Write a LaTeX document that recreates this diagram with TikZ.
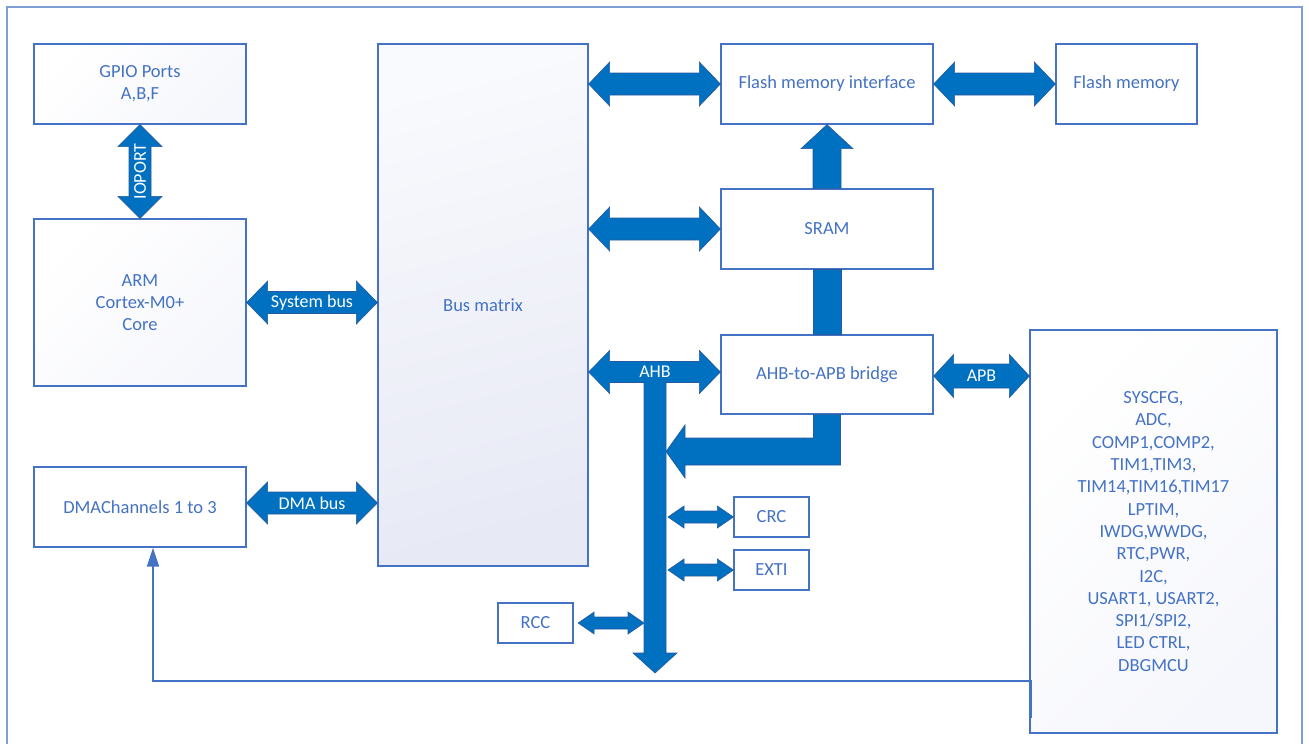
\documentclass[tikz,border=0pt]{standalone}
\usepackage{fontspec}
\setmainfont{Carlito}
\usetikzlibrary{calc,arrows.meta}
\definecolor{boxline}{RGB}{68,114,196}
\definecolor{txt}{RGB}{68,114,196}
\definecolor{arrowfill}{RGB}{0,112,192}
\definecolor{arrowedge}{RGB}{40,88,158}
\definecolor{lav}{RGB}{231,233,245}
\definecolor{lavlight}{RGB}{249,250,253}
\definecolor{lavsoft}{RGB}{246,247,252}
\definecolor{framecol}{RGB}{128,158,214}
\tikzset{
  blk/.style={draw=boxline, line width=1.3pt, text=txt, align=center, inner sep=0pt,
    fill=white, font=\fontsize{18.5}{22.3}\selectfont},
  softshade/.style={top color=white, bottom color=lavsoft, shading angle=45},
  bmshade/.style={top color=lavlight, bottom color=lav, shading angle=15},
  busarrow/.style={fill=arrowfill, draw=arrowedge, line width=0.6pt, line join=miter},
  lbl/.style={text=white, inner sep=0pt, font=\fontsize{18}{20}\selectfont},
  reqline/.style={draw=boxline, line width=2pt},
  framestyle/.style={draw=framecol, line width=2pt}
}
% horizontal double arrow: left, right, shaft half, head half, head length
\newcommand\hdbl[5]{%
  \path[busarrow] let \p1=(#1), \p2=(#2) in
   (\x1,\y1) -- (\x1+#5pt,\y1+#4pt) -- (\x1+#5pt,\y1+#3pt) -- (\x2-#5pt,\y1+#3pt)
   -- (\x2-#5pt,\y1+#4pt) -- (\x2,\y1) -- (\x2-#5pt,\y1-#4pt) -- (\x2-#5pt,\y1-#3pt)
   -- (\x1+#5pt,\y1-#3pt) -- (\x1+#5pt,\y1-#4pt) -- cycle;}
% vertical double arrow: top, bottom, shaft half, head half, head length
\newcommand\vdbl[5]{%
  \path[busarrow] let \p1=(#1), \p2=(#2) in
   (\x1,\y1) -- (\x1+#4pt,\y1-#5pt) -- (\x1+#3pt,\y1-#5pt) -- (\x1+#3pt,\y2+#5pt)
   -- (\x1+#4pt,\y2+#5pt) -- (\x1,\y2) -- (\x1-#4pt,\y2+#5pt) -- (\x1-#3pt,\y2+#5pt)
   -- (\x1-#3pt,\y1-#5pt) -- (\x1-#4pt,\y1-#5pt) -- cycle;}
\begin{document}
\begin{tikzpicture}[x=1pt,y=-1pt]
\useasboundingbox (0,0) rectangle (1309,744);
\clip (0,0) rectangle (1309,744);
\draw[framestyle] (7,7) rectangle (1302,770);

% boxes
\node[blk, softshade, minimum width=212pt, minimum height=80pt] (gpio) at (140,84) {GPIO Ports\\A,B,F};
\node[blk, softshade, minimum width=212pt, minimum height=167pt] (arm) at (140,302.5) {ARM\\Cortex-M0+\\Core};
\node[blk, minimum width=212pt, minimum height=80pt] (dma) at (140,507) {DMAChannels 1 to 3};
\node[blk, bmshade, minimum width=210pt, minimum height=522pt] (bm) at (483,305) {Bus matrix};
\node[blk, minimum width=212pt, minimum height=80pt] (fmi) at (827,84) {Flash memory interface};
\node[blk, minimum width=141pt, minimum height=80pt] (fm) at (1126.5,84) {Flash memory};
\node[blk, minimum width=212pt, minimum height=80pt] (sram) at (827,229) {SRAM};
\node[blk, minimum width=212pt, minimum height=79pt] (bridge) at (827,374.5) {AHB-to-APB bridge};
\node[blk, softshade, minimum width=247pt, minimum height=403pt] (periph) at (1153.5,531.5)
  {SYSCFG,\\ADC,\\COMP1,COMP2,\\TIM1,TIM3,\\TIM14,TIM16,TIM17\\LPTIM,\\IWDG,WWDG,\\RTC,PWR,\\I2C,\\USART1, USART2,\\SPI1/SPI2,\\LED CTRL,\\DBGMCU};
\node[blk, minimum width=75pt, minimum height=40pt] (crc) at (771.5,517) {CRC};
\node[blk, minimum width=75pt, minimum height=40pt] (exti) at (771.5,570) {EXTI};
\node[blk, minimum width=75pt, minimum height=40pt] (rcc) at (535.5,623) {RCC};

\coordinate (ahbtop) at (655,375);
\coordinate (ahbend) at (655,673);
\coordinate (ltip) at (666,451.5);
\coordinate (dsrc) at (1031,718);

% IOPORT
\vdbl{gpio.south}{arm.north}{11}{22}{22}
\node[lbl, rotate=90] at ($(gpio.south)!0.5!(arm.north)$) {IOPORT};
% system bus
\hdbl{arm.east}{bm.west |- arm.east}{11}{21.5}{21}
\node[lbl] at ($(arm.east)!0.5!(bm.west |- arm.east)$) {System bus};
% DMA bus
\hdbl{$(dma.east)+(0,-4)$}{$(bm.west |- dma.east)+(0,-4)$}{11}{21}{21}
\node[lbl] at ($(dma.east)!0.5!(bm.west |- dma.east)+(0,-4)$) {DMA bus};
% bus matrix to flash interface / sram
\hdbl{bm.east |- fmi.west}{fmi.west}{11}{22}{21}
\hdbl{bm.east |- sram.west}{sram.west}{11}{22}{21}
% flash interface to flash memory
\hdbl{fmi.east}{fm.west}{11}{22}{21}
% AHB vertical bar
\path[busarrow] let \p1=(ahbtop), \p2=(ahbend) in
  (\x1-11pt,\y1) -- (\x1+11pt,\y1) -- (\x1+11pt,\y2+20pt) -- (\x1+22pt,\y2+20pt) -- (\x2,\y2)
  -- (\x1-22pt,\y2+20pt) -- (\x1-11pt,\y2+20pt) -- cycle;
% AHB horizontal
\hdbl{$(bm.east |- bridge.west)+(0,-2.5)$}{$(bridge.west)+(0,-2.5)$}{10.5}{21.5}{21}
\fill[arrowfill] (644.6,378) rectangle (665.4,386);
\node[lbl] at ($(ahbtop |- bridge.west)+(0,-2.5)$) {AHB};
% APB
\hdbl{$(bridge.east)+(0,1.5)$}{$(periph.west |- bridge.east)+(0,1.5)$}{12}{21.5}{20}
\node[lbl] at ($(bridge.east)!0.5!(periph.west |- bridge.east)+(0,1.5)$) {APB};
% SRAM up to flash interface
\path[busarrow] let \p1=(sram.north), \p2=(fmi.south) in
  (\x1-14pt,\y1) -- (\x1-14pt,\y2-24pt) -- (\x1-26pt,\y2-24pt) -- (\x2,\y2)
  -- (\x1+26pt,\y2-24pt) -- (\x1+14pt,\y2-24pt) -- (\x1+14pt,\y1) -- cycle;
% SRAM to bridge bar
\path[busarrow] let \p1=(sram.south), \p2=(bridge.north) in
  (\x1-14pt,\y1) rectangle (\x1+14pt,\y2);
% bridge down-left to AHB bar
\path[busarrow] let \p1=(bridge.south), \p2=(ltip) in
  (\x1+13.5pt,\y1) -- (\x1+13.5pt,\y2-13.5pt) -- (\x2+19pt,\y2-13.5pt) -- (\x2+19pt,\y2-26.5pt)
  -- (\x2,\y2) -- (\x2+19pt,\y2+26.5pt) -- (\x2+19pt,\y2+13.5pt) -- (\x1-13.5pt,\y2+13.5pt)
  -- (\x1-13.5pt,\y1) -- cycle;
% CRC, EXTI, RCC
\hdbl{$(ahbtop |- crc.west)+(13,0)$}{crc.west}{6}{11}{16}
\hdbl{$(ahbtop |- exti.west)+(13,0)$}{exti.west}{6}{11}{16}
\hdbl{$(rcc.east)+(4.5,0)$}{$(ahbtop |- rcc.east)+(-11,0)$}{6}{11}{16}
% DMA request line
\draw[reqline, -{Triangle[width=12pt,length=19pt]}] (dsrc) |- ($(dma.south)+(13,133)$) -- ($(dma.south)+(13,0)$);
\end{tikzpicture}
\end{document}
